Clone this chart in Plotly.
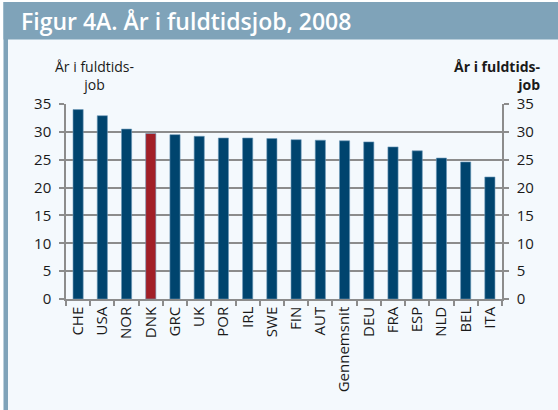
import plotly.graph_objects as go

categories = ["CHE", "USA", "NOR", "DNK", "GRC", "UK", "POR", "IRL", "SWE", "FIN",
              "AUT", "Gennemsnit", "DEU", "FRA", "ESP", "NLD", "BEL", "ITA"]
values = [34.0, 32.9, 30.5, 29.7, 29.5, 29.2, 28.9, 28.9, 28.8, 28.6,
          28.5, 28.4, 28.2, 27.3, 26.6, 25.3, 24.6, 21.9]
highlight = "DNK"
y_ticks = [0, 5, 10, 15, 20, 25, 30, 35]

BLUE = "#00446e"
RED = "#a21f27"
BAND = "#7fa3b9"
BG = "#f4f9fd"
GRID = "#8c8c8c"
FONT = "Open Sans"

W, H = 558, 410
L, R, T, B = 66, 56, 104, 111
PW, PH = W - L - R, H - T - B


def px(x):
    return (x - L) / PW


def py(y):
    return (H - B - y) / PH


colors = [RED if c == highlight else BLUE for c in categories]

fig = go.Figure()
fig.add_trace(go.Bar(
    x=categories, y=values, marker_color=colors,
    marker_line=dict(color="#6f9bba", width=0.6),
    showlegend=False, hoverinfo="x+y",
))
fig.add_trace(go.Scatter(
    x=categories, y=values, yaxis="y2", mode="markers",
    marker=dict(opacity=0), showlegend=False, hoverinfo="skip",
))

axis_common = dict(
    range=[0, 35], tickvals=y_ticks, ticks="outside", ticklen=5, tickwidth=1.5,
    tickcolor=GRID, showline=True, linecolor=GRID, linewidth=1.5,
    tickfont=dict(family=FONT, size=15, color="#1a1a1a"), fixedrange=True,
    zeroline=False, automargin=False, ticklabelstandoff=5,
)

fig.update_layout(
    width=W, height=H,
    margin=dict(l=L, r=R, t=T, b=B),
    paper_bgcolor=BG, plot_bgcolor=BG,
    bargap=0.58,
    font=dict(family=FONT, color="#1a1a1a"),
    xaxis=dict(
        type="category", tickangle=-90, ticks="outside", ticklen=5, tickwidth=1.5,
        tickcolor=GRID, tickson="boundaries", showline=True, linecolor=GRID,
        linewidth=1.5, tickfont=dict(family=FONT, size=15, color="#1a1a1a"),
        showgrid=False, range=[-0.5, len(categories) - 0.5], automargin=False,
    ),
    yaxis=dict(**axis_common, showgrid=True, gridcolor=GRID, gridwidth=1.5, side="left"),
    yaxis2=dict(**axis_common, showgrid=False, side="right", overlaying="y"),
    shapes=[
        dict(type="rect", xref="paper", yref="paper", x0=px(0), x1=px(W),
             y0=py(0), y1=py(2), line_width=0, fillcolor="white", layer="below"),
        dict(type="rect", xref="paper", yref="paper", x0=px(0), x1=px(3.5),
             y0=py(0), y1=py(H), line_width=0, fillcolor="white", layer="below"),
        dict(type="rect", xref="paper", yref="paper", x0=px(3.5), x1=px(W),
             y0=py(2), y1=py(39.5), line_width=0, fillcolor=BAND, layer="below"),
        dict(type="rect", xref="paper", yref="paper", x0=px(3.5), x1=px(8),
             y0=py(2), y1=py(H), line_width=0, fillcolor=BAND, layer="below"),
    ],
    annotations=[
        dict(text="Figur 4A. År i fuldtidsjob, 2008", xref="paper", yref="paper",
             x=px(19), y=py(21), xanchor="left", yanchor="middle",
             showarrow=False, font=dict(family=FONT, size=23, color="white", weight=600)),
        dict(text="År i fuldtids-<br>job", xref="paper", yref="paper",
             x=px(94), y=py(75), xanchor="center", yanchor="middle",
             showarrow=False, align="center",
             font=dict(family=FONT, size=14, color="#1a1a1a")),
        dict(text="<b>År i fuldtids-</b><br><b>job</b>", xref="paper", yref="paper",
             x=px(542), y=py(75), xanchor="right", yanchor="middle",
             showarrow=False, align="right",
             font=dict(family=FONT, size=14, color="#1a1a1a")),
    ],
)

fig.write_html("out.html", config={"displayModeBar": False},
               post_script="document.body.style.margin='0';")
